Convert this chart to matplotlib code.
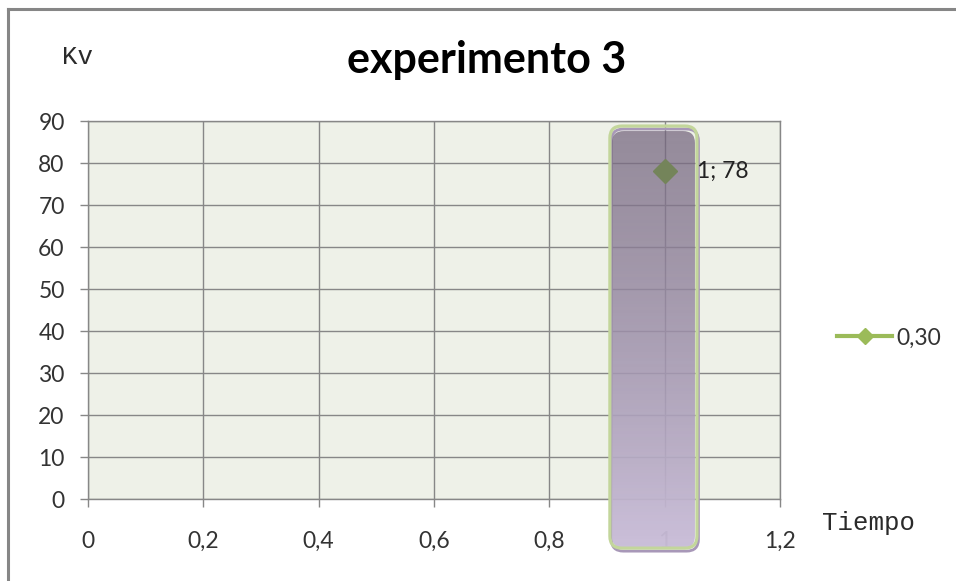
import matplotlib
matplotlib.use("Agg")
import matplotlib.pyplot as plt
import numpy as np
from matplotlib.patches import FancyBboxPatch
from matplotlib.collections import PolyCollection
from matplotlib.lines import Line2D
import matplotlib.transforms as mtransforms

# ---- chart data -------------------------------------------------------
title = "experimento 3"
series_name = "0,30"
x_vals = [1.0]
y_vals = [78.0]
x_ticks = [0.0, 0.2, 0.4, 0.6, 0.8, 1.0, 1.2]
x_tick_labels = ["0", "0,2", "0,4", "0,6", "0,8", "1", "1,2"]
y_ticks = [0, 10, 20, 30, 40, 50, 60, 70, 80, 90]
y_tick_labels = [str(v) for v in y_ticks]
x_label = "Tiempo"
y_label = "Kv"

# ---- styling ------------------------------------------------------------
W, H = 956, 581
SANS = ["Lato", "DejaVu Sans"]
MONO = ["Liberation Mono", "DejaVu Sans Mono"]
GRID = "#878787"
TXT = "#333333"
PLOT_BG = "#EEF1E8"
SERIES_GREEN = "#9BBB59"
POINT_COLOR = "#74845A"
TICK_FS = 16.5

fig = plt.figure(figsize=(W / 100, H / 100), dpi=100)
fig.patch.set_facecolor("white")

# outer chart frame (only top and left edges fall inside the canvas)
for xs, ys in [((8 / W, 1.0), (1 - 9 / H, 1 - 9 / H)),
               ((8 / W, 8 / W), (0.0, 1 - 9 / H))]:
    fig.add_artist(Line2D(xs, ys, transform=fig.transFigure, color="#868686", lw=2.2))

ax = fig.add_axes([88 / W, 1 - 499 / H, (780 - 88) / W, (499 - 121) / H])
ax.set_facecolor(PLOT_BG)
ax.set_xlim(x_ticks[0], x_ticks[-1])
ax.set_ylim(y_ticks[0], y_ticks[-1])
ax.set_xticks(x_ticks, x_tick_labels)
ax.set_yticks(y_ticks, y_tick_labels)
ax.grid(True, color=GRID, lw=1.0, zorder=0)
ax.set_axisbelow(True)
for s in ax.spines.values():
    s.set_color(GRID)
    s.set_linewidth(1.0)
ax.tick_params(axis="both", colors=GRID, length=5.8, width=1.0,
               labelcolor=TXT, labelsize=TICK_FS)
ax.tick_params(axis="x", pad=17)
ax.tick_params(axis="y", pad=11)
for lab in ax.get_xticklabels() + ax.get_yticklabels():
    lab.set_family(SANS)

# ---- rounded highlight column around the point ---------------------------
fig.canvas.draw()
px_per_x = ax.bbox.width / (x_ticks[-1] - x_ticks[0])
px_per_y = ax.bbox.height / (y_ticks[-1] - y_ticks[0])
aspect = px_per_x / px_per_y
hx0, hx1 = x_vals[0] - 0.095, x_vals[0] + 0.056
hy0, hy1 = -11.7, 88.8
radius = 12 / px_per_x
style = f"round,pad=0,rounding_size={radius}"

shadow = FancyBboxPatch((hx0, hy0), hx1 - hx0, hy1 - hy0, boxstyle=style,
                        mutation_aspect=aspect, fc="none", ec="#A898B8",
                        lw=2.0, clip_on=False, zorder=4,
                        transform=mtransforms.offset_copy(ax.transData, fig=fig,
                                                          x=1.5, y=-3, units="dots"))
ax.add_patch(shadow)

# the fill sits slightly inside the green outline, leaving a thin gap at the top
ix, itop = 2 / px_per_x, 5 / px_per_y
fill_shape = FancyBboxPatch((hx0 + ix, hy0), hx1 - hx0 - 2 * ix, hy1 - hy0 - itop,
                            boxstyle=style, mutation_aspect=aspect, fc="none",
                            ec="none", clip_on=False, zorder=4)
ax.add_patch(fill_shape)

outline = FancyBboxPatch((hx0, hy0), hx1 - hx0, hy1 - hy0, boxstyle=style,
                         mutation_aspect=aspect, fc="none", ec="#C3D69B",
                         lw=2.3, clip_on=False, zorder=6)
ax.add_patch(outline)

# vertical gradient: grey-violet at the top to pale lavender at the bottom,
# more see-through at the top than at the bottom
top_rgb = np.array([114, 99, 124]) / 255
bot_rgb = np.array([201, 189, 216]) / 255
top_alpha, bot_alpha = 0.72, 0.97
n = 140
edges = np.linspace(hy1, hy0, n + 1)
polys, cols = [], []
for i in range(n):
    t = i / (n - 1)
    polys.append([(hx0, edges[i]), (hx1, edges[i]), (hx1, edges[i + 1]), (hx0, edges[i + 1])])
    cols.append((*(top_rgb * (1 - t) + bot_rgb * t), top_alpha * (1 - t) + bot_alpha * t))
grad = PolyCollection(polys, facecolors=cols, edgecolors="none", zorder=5)
ax.add_collection(grad, autolim=False)
grad.set_clip_path(fill_shape)
grad.set_clip_box(None)

# ---- data point and its label -------------------------------------------
ax.plot(x_vals, y_vals, linestyle="none", marker="D", ms=12.7,
        color=POINT_COLOR, zorder=7, clip_on=False)
for xv, yv in zip(x_vals, y_vals):
    ax.annotate(f"{xv:g}; {yv:g}", (xv, yv), xytext=(23, 0),
                textcoords="offset points", va="center", ha="left",
                fontsize=TICK_FS, family=SANS, color="#222222", zorder=8)

# ---- titles and axis captions --------------------------------------------
fig.text(487 / W, 1 - 73 / H, title, ha="center", va="baseline",
         fontsize=31, fontweight="bold", family=SANS, color="black")
fig.text(62 / W, 1 - 64 / H, y_label, ha="left", va="baseline",
         fontsize=18.5, family=MONO, color="#2a2a2a")
fig.text(822 / W, 1 - 530 / H, x_label, ha="left", va="baseline",
         fontsize=18.5, family=MONO, color="#2a2a2a")

# ---- legend ---------------------------------------------------------------
handle = Line2D([], [], color=SERIES_GREEN, lw=3.0, marker="D", ms=8,
                mfc=SERIES_GREEN, mec=SERIES_GREEN)
leg = fig.legend([handle], [series_name], loc="center left",
                 bbox_to_anchor=(837 / W, 1 - 338 / H), frameon=False,
                 borderpad=0, borderaxespad=0, handlelength=2.4,
                 handletextpad=0.18, prop={"family": SANS, "size": TICK_FS})
for t in leg.get_texts():
    t.set_color(TXT)

fig.savefig("out.png", dpi=100)
